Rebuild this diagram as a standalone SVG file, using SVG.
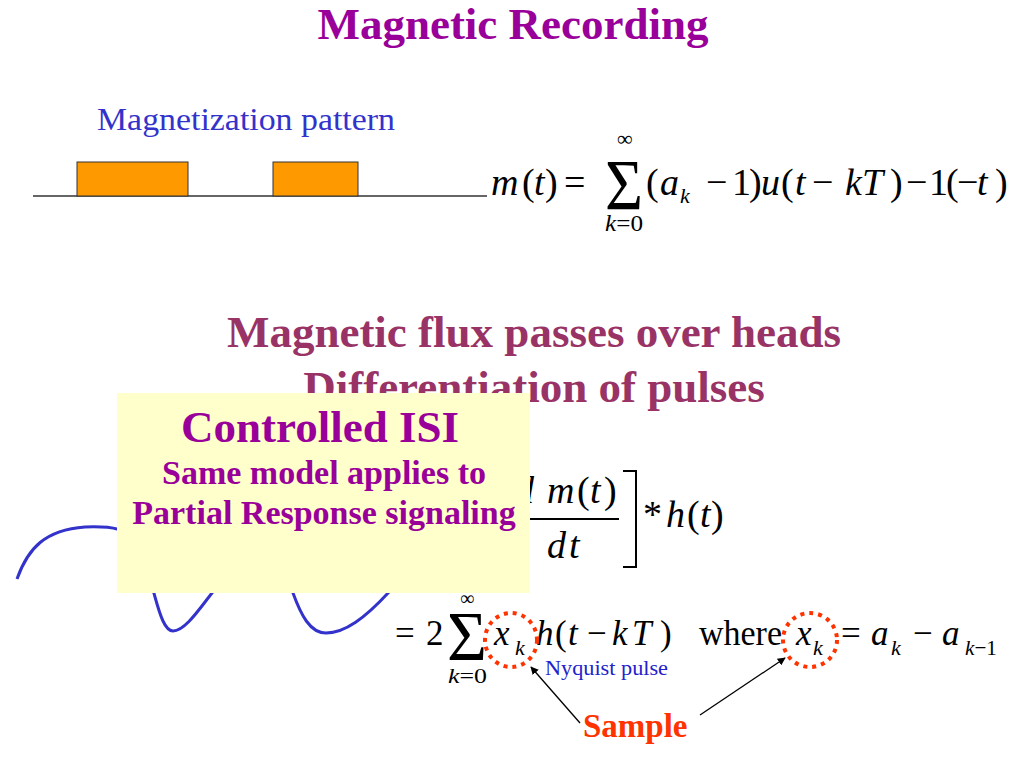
<svg xmlns="http://www.w3.org/2000/svg" width="1024" height="768" viewBox="0 0 1024 768" font-family="'Liberation Serif', 'Times New Roman', serif">
<defs>
<style>
text{font-family:'Liberation Serif','Times New Roman',serif;}
.m{font-size:38px;fill:#000;}
.b{font-size:35px;fill:#000;}
.i{font-style:italic;}
.sub{font-size:22px;font-style:italic;fill:#000;}
.head{font-weight:bold;font-size:45px;fill:#993366;}
.box{font-weight:bold;fill:#990099;}
.dot{fill:none;stroke:#ff3300;stroke-width:4;stroke-dasharray:4 5;}
.conn{stroke:#000;stroke-width:1.3;fill:none;marker-end:url(#ah);}
</style>
<marker id="ah" viewBox="0 0 10 10" refX="9" refY="5" markerWidth="8" markerHeight="8" markerUnits="userSpaceOnUse" orient="auto">
<path d="M0,0 L10,5 L0,10 Z" fill="#000"/>
</marker>
</defs>
<rect width="1024" height="768" fill="#fff"/>

<g id="title">
<text x="513" y="39" text-anchor="middle" font-weight="bold" font-size="45" fill="#990099">Magnetic Recording</text>
</g>

<g id="pattern">
<text x="97" y="130" font-size="32" fill="#3333cc" textLength="298" lengthAdjust="spacingAndGlyphs">Magnetization pattern</text>
<line x1="33" y1="196" x2="487" y2="196" stroke="#333" stroke-width="1.5"/>
<rect x="77" y="162" width="111" height="34" fill="#ff9900" stroke="#333" stroke-width="1"/>
<rect x="273" y="162" width="85" height="34" fill="#ff9900" stroke="#333" stroke-width="1"/>
</g>

<g id="formula-m">
<text class="m i" x="491" y="195">m</text>
<text class="m" x="522" y="195">(</text>
<text class="m i" x="534" y="195">t</text>
<text class="m" x="545" y="195">)</text>
<text class="m" x="564" y="195">=</text>
<text x="605" y="209" font-size="72" textLength="38" lengthAdjust="spacingAndGlyphs">Σ</text>
<text x="617" y="146" font-size="22">∞</text>
<text x="605" y="231" font-size="23" textLength="38" lengthAdjust="spacingAndGlyphs"><tspan font-style="italic">k</tspan>=0</text>
<text class="m" x="646" y="195">(</text>
<text class="m i" x="660" y="195">a</text>
<text class="sub" x="680" y="203">k</text>
<text class="m" x="706" y="195">−</text>
<text class="m" x="732" y="195">1</text>
<text class="m" x="749" y="195">)</text>
<text class="m i" x="761" y="195">u</text>
<text class="m" x="781" y="195">(</text>
<text class="m i" x="795" y="195">t</text>
<text class="m" x="812" y="195">−</text>
<text class="m i" x="845" y="195">k</text>
<text class="m i" x="862" y="195">T</text>
<text class="m" x="890" y="195">)</text>
<text class="m" x="906" y="195">−</text>
<text class="m" x="929" y="195">1</text>
<text class="m" x="946" y="195">(</text>
<text class="m" x="957" y="195">−</text>
<text class="m i" x="977" y="195">t</text>
<text class="m" x="995" y="195">)</text>
</g>

<g id="headings">
<text class="head" x="534" y="347" text-anchor="middle">Magnetic flux passes over heads</text>
<text class="head" x="534" y="402" text-anchor="middle">Differentiation of pulses</text>
</g>

<g id="formula-p">
<text class="m i" x="515" y="503">d</text>
<text class="m i" x="547" y="503">m</text>
<text class="m" x="577" y="503">(</text>
<text class="m i" x="590" y="503">t</text>
<text class="m" x="604" y="503">)</text>
<line x1="470" y1="519" x2="619" y2="519" stroke="#000" stroke-width="2"/>
<text class="m i" x="547" y="558">d</text>
<text class="m i" x="569" y="558">t</text>
<path d="M623,471 H636 V567 H623" fill="none" stroke="#000" stroke-width="2"/>
<text class="m" x="643" y="527">*</text>
<text class="m i" x="666" y="527">h</text>
<text class="m" x="687" y="527">(</text>
<text class="m i" x="700" y="527">t</text>
<text class="m" x="711" y="527">)</text>
</g>

<g id="pulses">
<path d="M17,579 C28,548 45,530 85,527 C110,526 130,528 140,545 C148,560 150,580 155,597 C160,615 165,631 173,631 C185,631 200,608 212,593 C230,570 240,470 255,470 C270,470 280,560 293,593 C301,615 310,633 326,633 C345,633 365,618 389,592" fill="none" stroke="#3333cc" stroke-width="3"/>
</g>

<g id="isi-box">
<rect x="117" y="393" width="413" height="200" fill="#ffffcc"/>
<text class="box" x="320" y="442" text-anchor="middle" font-size="45">Controlled ISI</text>
<text class="box" x="324" y="484" text-anchor="middle" font-size="34">Same model applies to</text>
<text class="box" x="324" y="524" text-anchor="middle" font-size="34">Partial Response signaling</text>
</g>

<g id="formula-sum">
<text class="b" x="395" y="645">=</text>
<text class="b" x="426" y="645">2</text>
<text x="447" y="660" font-size="70" textLength="40" lengthAdjust="spacingAndGlyphs">Σ</text>
<text x="460" y="605" font-size="20">∞</text>
<text x="448" y="683" font-size="22" textLength="39" lengthAdjust="spacingAndGlyphs"><tspan font-style="italic">k</tspan>=0</text>
<text class="b i" x="494" y="645">x</text>
<text class="sub" x="515" y="655">k</text>
<text class="b i" x="536" y="645">h</text>
<text class="b" x="555" y="645">(</text>
<text class="b i" x="568" y="645">t</text>
<text class="b" x="587" y="645">−</text>
<text class="b i" x="612" y="645">k</text>
<text class="b i" x="632" y="645">T</text>
<text class="b" x="660" y="645">)</text>
<text class="b" x="699" y="645" textLength="83" lengthAdjust="spacingAndGlyphs">where</text>
<text class="b i" x="796" y="645">x</text>
<text class="sub" x="813" y="655">k</text>
<text class="b" x="841" y="645">=</text>
<text class="b i" x="871" y="645">a</text>
<text class="sub" x="891" y="655">k</text>
<text class="b" x="913" y="645">−</text>
<text class="b i" x="942" y="645">a</text>
<text class="sub" x="965" y="655" textLength="32" lengthAdjust="spacingAndGlyphs">k<tspan font-style="normal">−1</tspan></text>
</g>

<g id="samples">
<ellipse class="dot" cx="511" cy="640" rx="26" ry="27"/>
<ellipse class="dot" cx="810" cy="640" rx="27" ry="27"/>
<text x="545" y="675" font-size="21" fill="#2222cc" textLength="123" lengthAdjust="spacingAndGlyphs">Nyquist pulse</text>
<text x="583" y="737" font-size="33" font-weight="bold" fill="#ff3300">Sample</text>
</g>

<g id="connectors">
<line class="conn" x1="580" y1="723" x2="531" y2="667"/>
<line class="conn" x1="700" y1="715" x2="785" y2="658"/>
</g>
</svg>
